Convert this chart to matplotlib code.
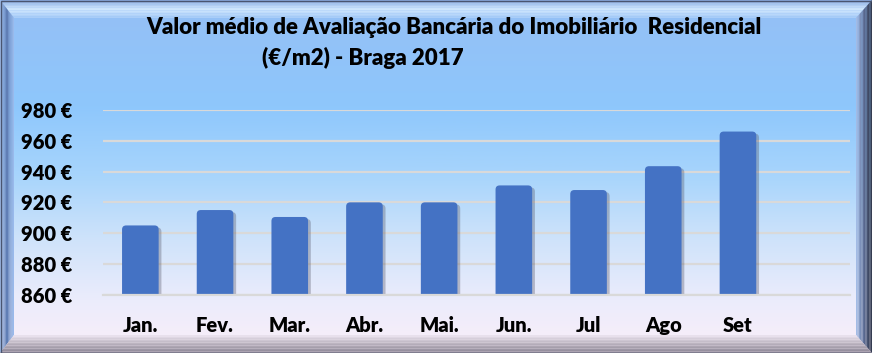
#!/usr/bin/env python3
import matplotlib
matplotlib.use("Agg")
import matplotlib.pyplot as plt
import matplotlib.patheffects as pe
from matplotlib.patches import FancyBboxPatch, Polygon
from matplotlib.colors import LinearSegmentedColormap
import numpy as np

months = ["Jan.", "Fev.", "Mar.", "Abr.", "Mai.", "Jun.", "Jul", "Ago", "Set", ""]
values = [905, 915, 910.5, 920, 920, 931, 928, 943.5, 966, None]
yticks = [860, 880, 900, 920, 940, 960, 980]

FONT = ["Lato", "DejaVu Sans"]
BAR = "#4472C4"

W, H = 872, 353
fig = plt.figure(figsize=(W / 100, H / 100), dpi=100)

# background gradient over the whole figure
bg = fig.add_axes([0, 0, 1, 1], zorder=-10)
bg.set_axis_off()
grad_cmap = LinearSegmentedColormap.from_list("bg", [
    (0.00, "#95bff5"), (0.30, "#8ec7fc"), (0.50, "#a8d5fc"),
    (0.68, "#cfe3fa"), (0.85, "#ebecfc"), (1.00, "#faeef8")])
bg.imshow(np.linspace(0, 1, 256)[:, None], aspect="auto", cmap=grad_cmap,
          extent=[0, W, H, 0])
bg.set_xlim(0, W)
bg.set_ylim(H, 0)

# bevelled frame, each side shaded from outer to inner edge
t, l, r, b = 18, 14, 16, 18
sides = {
    "top": LinearSegmentedColormap.from_list("t", ["#86a8e0", "#d2e8fd", "#a6cbf8"]),
    "left": LinearSegmentedColormap.from_list("l", ["#a8c4f0", "#5a78b0", "#9ebff0"]),
    "right": LinearSegmentedColormap.from_list("r", ["#2c3244", "#5c6c94", "#a8c2ec"]),
    "bottom": LinearSegmentedColormap.from_list("b", ["#8a8494", "#b8b0bc", "#ece4f0"]),
}
n = 12
for i in range(n):
    f0, f1 = i / n, (i + 1) / n
    c = (i + 0.5) / n
    # corner points of the outer and inner rectangles at fraction f
    def rect(f):
        return (l * f, t * f, W - r * f, H - b * f)
    x0a, y0a, x1a, y1a = rect(f0)
    x0b, y0b, x1b, y1b = rect(f1)
    kw = dict(closed=True, edgecolor="none", lw=0)
    bg.add_patch(Polygon([(x0a, y0a), (x1a, y0a), (x1b, y0b), (x0b, y0b)],
                         facecolor=sides["top"](c), **kw))
    bg.add_patch(Polygon([(x0a, y0a), (x0b, y0b), (x0b, y1b), (x0a, y1a)],
                         facecolor=sides["left"](c), **kw))
    bg.add_patch(Polygon([(x1a, y0a), (x1a, y1a), (x1b, y1b), (x1b, y0b)],
                         facecolor=sides["right"](c), **kw))
    bg.add_patch(Polygon([(x0a, y1a), (x0b, y1b), (x1b, y1b), (x1a, y1a)],
                         facecolor=sides["bottom"](c), **kw))
bg.add_patch(plt.Rectangle((0.5, 0.5), W - 1, H - 1, fill=False,
                           edgecolor="#4a5570", lw=1.0))

ax = fig.add_axes([103 / W, 1 - 294.7 / H, 747 / W, (294.7 - 110) / H])
ax.set_facecolor("none")
for s in ax.spines.values():
    s.set_visible(False)

x = np.arange(len(months))
heights = [v if v is not None else 0 for v in values]
bars = ax.bar(x, heights, width=0.49, color=BAR)
for bar, v in zip(bars, values):
    bar.set_visible(False)
    if v is None:
        continue
    patch = FancyBboxPatch((bar.get_x(), bar.get_y()), bar.get_width(), bar.get_height(),
                           boxstyle="round,pad=0,rounding_size=0.055",
                           mutation_aspect=48, facecolor=BAR, edgecolor="none",
                           zorder=3)
    patch.set_path_effects([pe.SimplePatchShadow(offset=(2, -1.5), shadow_rgbFace="#555566",
                                                 alpha=0.35), pe.Normal()])
    ax.add_patch(patch)

ax.set_xlim(-0.5, len(months) - 0.5)
ax.set_ylim(yticks[0], yticks[-1])
ax.set_yticks(yticks)
ax.set_yticklabels([f"{v} €" for v in yticks])
ax.yaxis.grid(True, color="#d9d9d9", lw=1.6, zorder=1)
ax.set_axisbelow(True)
ax.axhline(yticks[0], color="#d9d9d9", lw=1.6, zorder=4, clip_on=False)
ax.set_xticks(x)
ax.set_xticklabels(months)
ax.tick_params(length=0)
ax.tick_params(axis="y", pad=22)
ax.tick_params(axis="x", pad=15)
for lab in ax.get_xticklabels() + ax.get_yticklabels():
    lab.set_family(FONT)
    lab.set_fontweight("heavy")
    lab.set_fontsize(14.5)

fig.text(146 / W, 1 - 28 / H, "Valor médio de Avaliação Bancária do Imobiliário  Residencial",
         ha="left", va="center", family=FONT, fontweight="heavy", fontsize=16)
fig.text(262 / W, 1 - 58 / H, "(€/m2) - Braga 2017",
         ha="left", va="center", family=FONT, fontweight="heavy", fontsize=16)

fig.savefig("out.png", dpi=100)
